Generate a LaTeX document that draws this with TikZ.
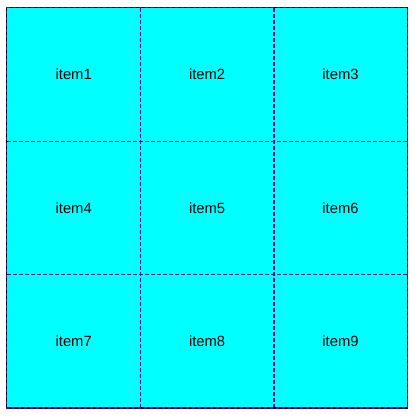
\documentclass[tikz,border=0pt]{standalone}
\usepackage{fontspec}
\setmainfont{Liberation Sans}
\usepackage{tikz}
\definecolor{gridcyan}{RGB}{0,255,255}
\definecolor{colline}{RGB}{95,0,180}
\definecolor{rowline}{RGB}{30,30,110}

\begin{document}
\begin{tikzpicture}[
    x=1pt,
    y=-1pt,
    cell/.style={
      rectangle,
      fill=gridcyan,
      inner sep=0pt,
      minimum width=133.4pt,
      minimum height=133.3pt,
      font=\fontsize{14.8}{17}\selectfont
    },
    colsep/.style={draw=colline, dashed, dash pattern=on 4pt off 2pt, line width=1.2pt},
    rowsep/.style={draw=rowline, dashed, dash pattern=on 4pt off 2pt, line width=1pt},
    frame/.style={draw=black, dashed, dash pattern=on 3pt off 3pt, line width=1.3pt},
]
    \useasboundingbox (0,0) rectangle (418,419);

    % the nine cells
    \foreach \row in {0,1,2} {
      \foreach \col in {1,2,3} {
        \pgfmathtruncatemacro{\idx}{3*\row+\col}
        \node [cell] (cell\idx) at ({7+133.4*(\col-0.5)}, {8+133.3*(\row+0.5)}) {item\idx};
      }
    }

    % separators
    \path [colsep] (cell1.north east) -- (cell7.south east);
    \path [colsep] (cell2.north east) -- (cell8.south east);
    \path [rowsep] (cell1.south west) -- (cell3.south east);
    \path [rowsep] (cell4.south west) -- (cell6.south east);

    % outer frame
    \path [draw=colline, line width=1.3pt] (cell1.north west) rectangle (cell9.south east);
    \path [frame] (cell1.north west) rectangle (cell9.south east);
\end{tikzpicture}
\end{document}
